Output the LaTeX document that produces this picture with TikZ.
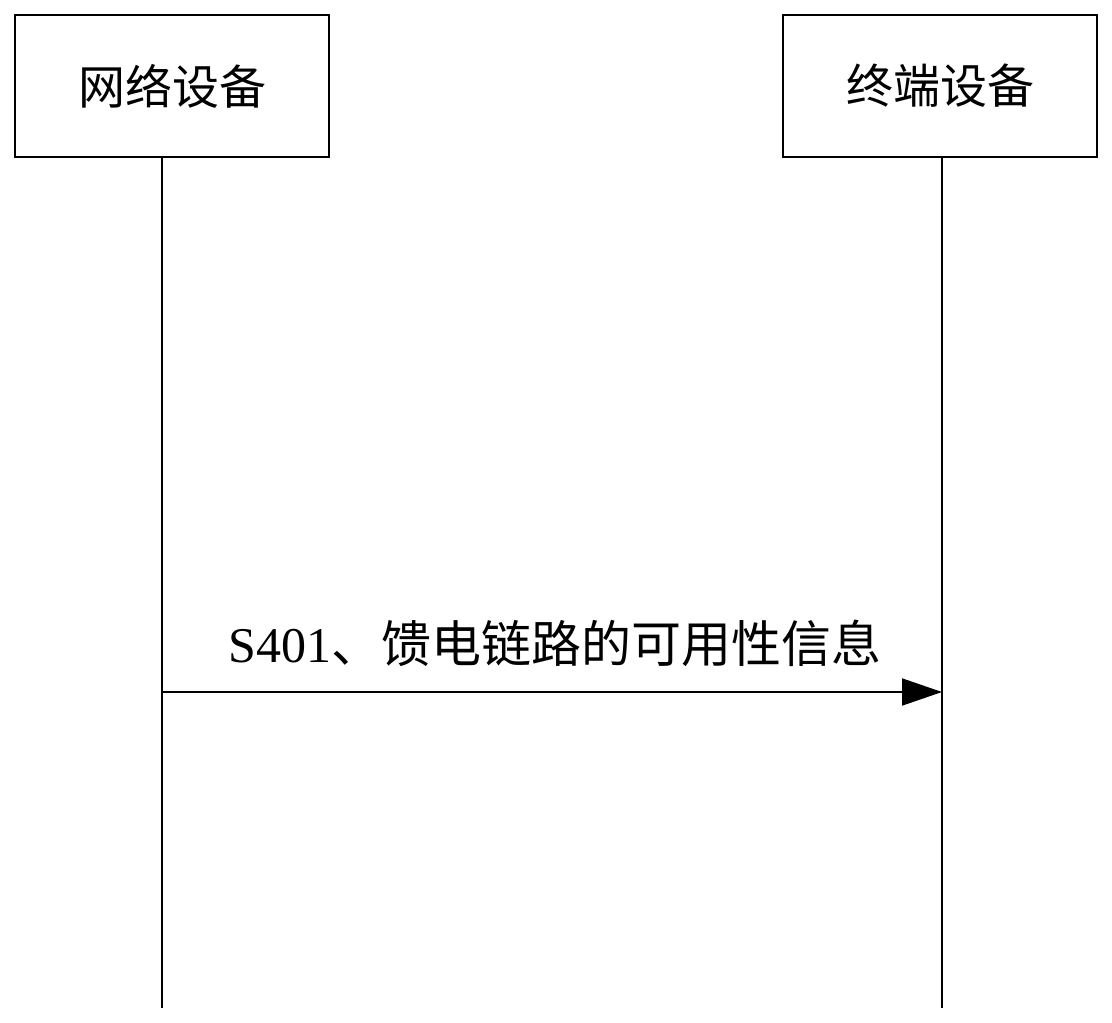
\documentclass[tikz,border=0pt]{standalone}
\usepackage{fontspec}
\setmainfont{Liberation Serif}
\newfontfamily\cjk{Noto Sans CJK SC}[Scale=1.0]
\usetikzlibrary{arrows.meta}
\tikzset{
  x=1pt, y=-1pt,
  actor/.style={draw, line width=2pt, minimum width=314pt, minimum height=142pt, inner sep=0pt, font=\fontsize{47}{54}\selectfont\cjk},
  life/.style={line width=2pt},
  msg/.style={line width=2pt, -{Triangle[length=40pt, width=27pt]}},
  lbl/.style={font=\fontsize{50}{58}\selectfont}
}
\begin{document}
\begin{tikzpicture}
\useasboundingbox (0,0) rectangle (1112,1023);
\node[actor] (net) at (172,86) {网络设备};
\node[actor] (ue) at (940,86) {终端设备};
\coordinate (netend) at (162,1008);
\coordinate (ueend) at (942,1008);
\draw[life] (net.south -| netend) -- (netend);
\draw[life] (ue.south -| ueend) -- (ueend);
\coordinate (a1) at (162,692);
\coordinate (a2) at (942,692);
\draw[msg] (a1) -- (a2);
\node[lbl, anchor=base] (lab) at (555,662) {S401{\cjk 、馈电链路的可用性信息}};
\end{tikzpicture}
\end{document}
